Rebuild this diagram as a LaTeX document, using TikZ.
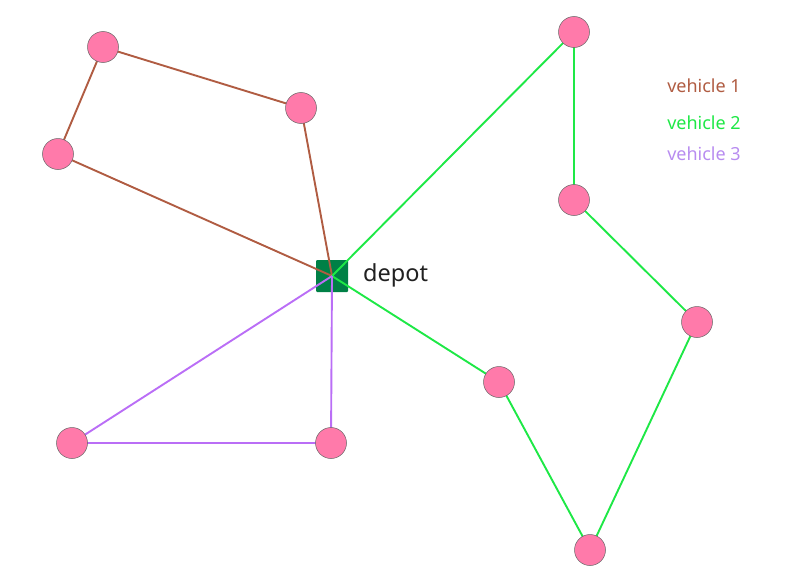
\documentclass[tikz,border=0pt]{standalone}
\usepackage{fontspec}
\setmainfont{Noto Sans}
\pgfdeclarelayer{bottom}
\pgfdeclarelayer{routes}
\pgfsetlayers{bottom,routes,main}
\definecolor{vone}{RGB}{176,92,66}
\definecolor{vtwo}{RGB}{30,232,70}
\definecolor{vthree}{RGB}{186,110,246}
\definecolor{vthreetxt}{RGB}{184,140,240}
\definecolor{pinkfill}{RGB}{255,122,170}
\definecolor{depotgreen}{RGB}{0,128,70}
\tikzset{
	customer/.style={circle, fill=pinkfill, draw=gray!80!black, line width=0.5pt, minimum size=31pt, inner sep=0pt},
	depotbox/.style={rectangle, rounded corners=1pt, fill=depotgreen, minimum size=32pt, inner sep=0pt},
	route/.style={line width=1.9pt, line join=round},
	legend/.style={font=\fontsize{18}{20}\selectfont, anchor=center}
}
\begin{document}
\begin{tikzpicture}[x=1pt, y=-1pt]
		\useasboundingbox (0,0) rectangle (786,578);

		%% Depot
		\begin{pgfonlayer}{bottom}
			\node[depotbox] (depot) at (332,276) {};
		\end{pgfonlayer}
		\node[anchor=base west, inner sep=0pt, text=black!87, font=\fontsize{23.5}{26}\selectfont] (depotlbl) at (363,281) {depot};

		% Customers of vehicle 1
		\node[customer] (c1) at (58,154) {};
		\node[customer] (c2) at (103,47) {};
		\node[customer] (c3) at (301,108) {};

		% Customers of vehicle 2
		\node[customer] (c4) at (574,32) {};
		\node[customer] (c5) at (574,200) {};
		\node[customer] (c6) at (697,322) {};
		\node[customer] (c7) at (590,550) {};
		\node[customer] (c8) at (499,382) {};

		% Customers of vehicle 3
		\node[customer] (c9) at (72,443) {};
		\node[customer] (c10) at (331,443) {};

		%% Routes
		\begin{pgfonlayer}{routes}
			% vehicle 1
			\draw[route, vone] (depot.center) -- (c1.center) -- (c2.center) -- (c3.center) -- (depot.center);
			% vehicle 2
			\draw[route, vtwo] (depot.center) -- (c4.center) -- (c5.center) -- (c6.center) -- (c7.center) -- (c8.center) -- (depot.center);
			% vehicle 3
			\draw[route, vthree] (depot.center) -- (c9.center) -- (c10.center) -- (depot.center);
		\end{pgfonlayer}

		%% Legend
		\node[legend, text=vone] (leg1) at (704,86) {vehicle 1};
		\node[legend, text=vtwo] (leg2) at (704,123) {vehicle 2};
		\node[legend, text=vthreetxt] (leg3) at (704,154) {vehicle 3};
	\end{tikzpicture}
\end{document}
